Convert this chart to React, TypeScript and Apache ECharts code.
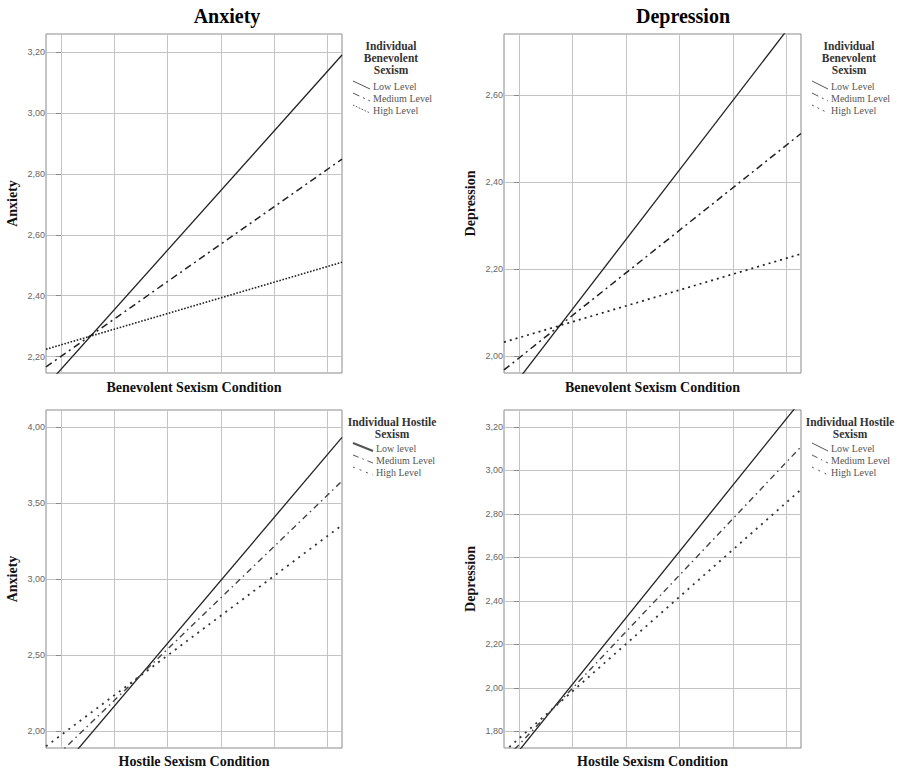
import React, { useEffect, useRef } from "react";
import * as echarts from "echarts";

// x axis: condition scale (gridlines at 0..5, fitted lines run edge to edge)
const X_EDGES = [-0.28, 5.27];
const X_GRID = [0, 1, 2, 3, 4, 5];

// Panel titles / axis names
const COLUMN_TITLES = ["Anxiety", "Depression"];
const X_NAMES = ["Benevolent Sexism Condition", "Benevolent Sexism Condition", "Hostile Sexism Condition", "Hostile Sexism Condition"];
const Y_NAMES = ["Anxiety", "Depression", "Anxiety", "Depression"];
const LEGEND_TITLES = ["Individual\nBenevolent\nSexism", "Individual\nBenevolent\nSexism", "Individual Hostile\nSexism", "Individual Hostile\nSexism"];

// Legend labels
const LEVELS_1 = ["Low Level", "Medium Level", "High Level"];
const LEVELS_2 = ["Low Level", "Medium Level", "High Level"];
const LEVELS_3 = ["Low level", "Medium Level", "High Level"];
const LEVELS_4 = ["Low Level", "Medium Level", "High Level"];

// Y ranges and tick values
const Y_RANGE_1 = [2.146, 3.26];
const Y_TICKS_1 = [2.2, 2.4, 2.6, 2.8, 3.0, 3.2];
const Y_RANGE_2 = [1.961, 2.741];
const Y_TICKS_2 = [2.0, 2.2, 2.4, 2.6];
const Y_RANGE_3 = [1.89, 4.112];
const Y_TICKS_3 = [2.0, 2.5, 3.0, 3.5, 4.0];
const Y_RANGE_4 = [1.723, 3.278];
const Y_TICKS_4 = [1.8, 2.0, 2.2, 2.4, 2.6, 2.8, 3.0, 3.2];

// Fitted values at the left and right plot edges
const ANX_BEN_LOW = [2.103, 3.191];
const ANX_BEN_MED = [2.166, 2.849];
const ANX_BEN_HIGH = [2.224, 2.51];
const DEP_BEN_LOW = [1.903, 2.792];
const DEP_BEN_MED = [1.968, 2.512];
const DEP_BEN_HIGH = [2.032, 2.235];
const ANX_HOS_LOW = [1.635, 3.932];
const ANX_HOS_MED = [1.77, 3.645];
const ANX_HOS_HIGH = [1.901, 3.355];
const DEP_HOS_LOW = [1.625, 3.321];
const DEP_HOS_MED = [1.665, 3.109];
const DEP_HOS_HIGH = [1.706, 2.912];

const SERIF = "'Liberation Serif', 'Times New Roman', serif";
const SANS = "'Liberation Sans', Arial, sans-serif";

const GRIDS = [
  { left: 46, top: 34, width: 296, height: 339 },
  { left: 504, top: 34, width: 297, height: 339 },
  { left: 46, top: 410, width: 296, height: 338 },
  { left: 504, top: 410, width: 297, height: 338 },
];

const STYLES_BEN = [
  { color: "#222", width: 1.3, type: "solid" as any },
  { color: "#222", width: 1.5, type: [7, 4, 2, 4] },
  { color: "#222", width: 1.6, type: [1.6, 1.6] },
];
const STYLES_BEN_DEP = [
  { color: "#222", width: 1.3, type: "solid" as any },
  { color: "#222", width: 1.5, type: [7, 4, 2, 4] },
  { color: "#222", width: 1.7, type: [2, 4] },
];
const STYLES_HOS = [
  { color: "#222", width: 1.3, type: "solid" as any },
  { color: "#444", width: 1.4, type: [6, 4, 1.5, 4] },
  { color: "#333", width: 1.8, type: [2, 5] },
];

export default function App() {
  const ref = useRef<HTMLDivElement>(null);

  useEffect(() => {
    if (!ref.current) return;
    const chart = echarts.init(ref.current, undefined, { renderer: "svg" });

    const panels = [
      { range: Y_RANGE_1, ticks: Y_TICKS_1, levels: LEVELS_1, data: [ANX_BEN_LOW, ANX_BEN_MED, ANX_BEN_HIGH], styles: STYLES_BEN },
      { range: Y_RANGE_2, ticks: Y_TICKS_2, levels: LEVELS_2, data: [DEP_BEN_LOW, DEP_BEN_MED, DEP_BEN_HIGH], styles: STYLES_BEN_DEP },
      { range: Y_RANGE_3, ticks: Y_TICKS_3, levels: LEVELS_3, data: [ANX_HOS_LOW, ANX_HOS_MED, ANX_HOS_HIGH], styles: STYLES_HOS },
      { range: Y_RANGE_4, ticks: Y_TICKS_4, levels: LEVELS_4, data: [DEP_HOS_LOW, DEP_HOS_MED, DEP_HOS_HIGH], styles: STYLES_HOS },
    ];

    const grid = GRIDS.map((g) => ({
      ...g,
      show: true,
      borderColor: "#8a8a8a",
      borderWidth: 1,
      backgroundColor: "transparent",
      containLabel: false,
    }));

    const xAxis = panels.map((p, i) => ({
      type: "value",
      gridIndex: i,
      min: X_EDGES[0],
      max: X_EDGES[1],
      name: X_NAMES[i],
      nameLocation: "middle",
      nameGap: i < 2 ? 7 : 6,
      nameTextStyle: { fontFamily: SERIF, fontWeight: "bold", fontSize: 14, color: "#111", verticalAlign: "top" },
      axisLine: { show: false },
      axisTick: { show: false, customValues: X_GRID },
      axisLabel: { show: false, customValues: X_GRID },
      splitLine: { show: true, lineStyle: { color: "#c4c4c4", width: 1 } },
    }));

    const yAxis = panels.map((p, i) => ({
      type: "value",
      gridIndex: i,
      min: p.range[0],
      max: p.range[1],
      name: Y_NAMES[i],
      nameLocation: "middle",
      nameRotate: 90,
      nameGap: 27,
      nameTextStyle: { fontFamily: SERIF, fontWeight: "bold", fontSize: 14, color: "#111" },
      axisLine: { show: false },
      axisTick: { show: true, length: 5, customValues: p.ticks, lineStyle: { color: "#8a8a8a" } },
      axisLabel: {
        show: true,
        customValues: p.ticks,
        margin: 1,
        fontFamily: SANS,
        fontSize: 9,
        color: "#666",
        formatter: (v: number) => v.toFixed(2).replace(".", ","),
      },
      splitLine: { show: true, lineStyle: { color: "#c4c4c4", width: 1 } },
    }));

    const series: any[] = [];
    panels.forEach((p, i) => {
      p.data.forEach((vals, k) => {
        series.push({
          type: "line",
          name: p.levels[k],
          xAxisIndex: i,
          yAxisIndex: i,
          data: [
            [X_EDGES[0], vals[0]],
            [X_EDGES[1], vals[1]],
          ],
          symbol: "none",
          showSymbol: false,
          clip: true,
          silent: true,
          lineStyle: { ...p.styles[k] },
        });
      });
    });

    // Legends (drawn as graphic elements, SPSS style with diagonal samples)
    const legendPos = [
      { cx: 391, titleTop: 40, sx: 353, tx: 373, ys: [86, 98, 110] },
      { cx: 849, titleTop: 40, sx: 812, tx: 831, ys: [86, 98, 110] },
      { cx: 392, titleTop: 416, sx: 353, tx: 376, ys: [448, 460, 472] },
      { cx: 850, titleTop: 416, sx: 812, tx: 831, ys: [448, 460, 472] },
    ];
    const graphic: any[] = [];
    legendPos.forEach((L, i) => {
      graphic.push({
        type: "text",
        x: L.cx,
        y: L.titleTop,
        style: {
          text: LEGEND_TITLES[i],
          fontFamily: SERIF,
          fontWeight: "bold",
          fontSize: 11.5,
          lineHeight: 12,
          fill: "#333",
          align: "center",
          verticalAlign: "top",
        },
      });
      const st = panels[i].styles;
      L.ys.forEach((y, k) => {
        graphic.push({
          type: "line",
          shape: { x1: L.sx, y1: y - 5, x2: L.tx - 3, y2: y + 3 },
          style: {
            stroke: "#555",
            lineWidth: k === 0 && i === 2 ? 2 : 1,
            lineDash: st[k].type === "solid" ? null : st[k].type,
          },
        });
        graphic.push({
          type: "text",
          x: L.tx,
          y: y,
          style: {
            text: panels[i].levels[k],
            fontFamily: SERIF,
            fontSize: 10,
            fill: "#555",
            align: "left",
            verticalAlign: "middle",
          },
        });
      });
    });

    chart.setOption({
      animation: false,
      backgroundColor: "#fff",
      title: [
        { text: COLUMN_TITLES[0], left: 227, top: 6, padding: 0, textAlign: "center", textStyle: { fontFamily: SERIF, fontWeight: "bold", fontSize: 20, color: "#000" } },
        { text: COLUMN_TITLES[1], left: 683, top: 6, padding: 0, textAlign: "center", textStyle: { fontFamily: SERIF, fontWeight: "bold", fontSize: 20, color: "#000" } },
      ],
      grid,
      xAxis,
      yAxis,
      series,
      graphic,
    });

    return () => chart.dispose();
  }, []);

  return <div ref={ref} style={{ position: "absolute", left: 0, top: 0, width: 897, height: 769 }} />;
}
